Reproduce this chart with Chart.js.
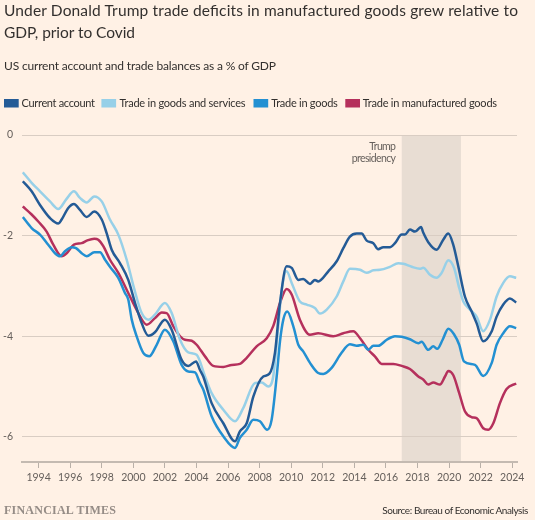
<!DOCTYPE html>
<html><head><meta charset="utf-8">
<script src="https://cdn.jsdelivr.net/npm/chart.js@4.4.1/dist/chart.umd.min.js"></script>
<style>
html,body{margin:0;padding:0;background:#FFF1E5;}
#wrap{position:relative;width:535px;height:520px;overflow:hidden;background:#FFF1E5;}
#c{position:absolute;left:0;top:0;}
#ov{position:absolute;left:0;top:0;pointer-events:none;}
</style></head><body>
<div id="wrap">
<canvas id="c" width="535" height="520"></canvas>
<svg id="ov" width="535" height="520" xmlns="http://www.w3.org/2000/svg" font-family="Lato, 'Open Sans', sans-serif">
<text x="4" y="15.7" font-size="15.5" fill="#33302e" textLength="514" lengthAdjust="spacing">Under Donald Trump trade deficits in manufactured goods grew relative to</text>
<text x="4" y="38.3" font-size="15.5" fill="#33302e" textLength="131" lengthAdjust="spacing">GDP, prior to Covid</text>
<text x="4" y="70" font-size="12" fill="#33302e" textLength="272" lengthAdjust="spacing">US current account and trade balances as a % of GDP</text>
<g id="legend"></g>
<text x="396" y="150" font-size="10.5" fill="#66605c" text-anchor="end" textLength="26.7" lengthAdjust="spacing">Trump</text>
<text x="396" y="161.5" font-size="10.5" fill="#66605c" text-anchor="end" textLength="44.3" lengthAdjust="spacing">presidency</text>
<text x="4" y="514" font-family="'Liberation Serif', 'DejaVu Serif', serif" font-weight="bold" font-size="12" fill="#958c86" textLength="112" lengthAdjust="spacing">FINANCIAL TIMES</text>
<text x="528.3" y="514.3" font-size="10" fill="#33302e" text-anchor="end" textLength="146" lengthAdjust="spacing">Source: Bureau of Economic Analysis</text>
</svg>
</div>
<script>
// ---- Data (year, % of GDP) ----
const currentAccount = [[1993.0,-0.92],[1993.56,-1.12],[1994.09,-1.39],[1994.72,-1.65],[1995.25,-1.76],[1995.46,-1.68],[1995.88,-1.45],[1996.24,-1.37],[1996.62,-1.49],[1997.05,-1.63],[1997.53,-1.52],[1998.0,-1.68],[1998.31,-1.95],[1998.63,-2.28],[1999.16,-2.55],[1999.68,-2.88],[2000.11,-3.34],[2000.53,-3.74],[2000.95,-3.99],[2001.37,-3.92],[2002.0,-3.67],[2002.43,-3.87],[2003.06,-4.47],[2003.48,-4.59],[2003.97,-4.50],[2004.22,-4.67],[2004.43,-4.80],[2004.96,-5.33],[2005.70,-5.73],[2006.44,-6.09],[2006.75,-5.89],[2007.18,-5.73],[2007.60,-5.20],[2008.23,-4.80],[2008.61,-4.75],[2008.97,-4.33],[2009.29,-3.34],[2009.71,-2.61],[2010.03,-2.64],[2010.45,-2.88],[2010.76,-2.86],[2011.19,-2.96],[2011.50,-2.88],[2011.71,-2.91],[2012.35,-2.71],[2012.88,-2.51],[2013.30,-2.25],[2013.72,-2.02],[2014.15,-1.96],[2014.46,-1.96],[2014.78,-2.10],[2015.20,-2.15],[2015.51,-2.27],[2015.83,-2.23],[2016.25,-2.23],[2016.57,-2.15],[2017.0,-1.98],[2017.20,-1.98],[2017.52,-1.88],[2017.84,-1.92],[2018.22,-1.83],[2018.36,-1.94],[2018.68,-2.13],[2019.21,-2.28],[2019.63,-2.08],[2019.95,-1.96],[2020.26,-2.18],[2020.58,-2.61],[2021.0,-3.21],[2021.43,-3.51],[2021.74,-3.74],[2022.16,-4.10],[2022.70,-3.90],[2023.01,-3.61],[2023.43,-3.37],[2023.85,-3.25],[2024.25,-3.33]];
const goodsAndServices = [[1993.0,-0.74],[1993.56,-0.95],[1994.09,-1.12],[1994.72,-1.32],[1995.25,-1.47],[1995.75,-1.28],[1996.24,-1.12],[1996.62,-1.25],[1997.05,-1.34],[1997.53,-1.22],[1998.0,-1.32],[1998.52,-1.68],[1999.05,-1.98],[1999.58,-2.48],[2000.05,-3.05],[2000.53,-3.54],[2000.95,-3.67],[2001.37,-3.57],[2002.0,-3.34],[2002.43,-3.54],[2002.96,-4.07],[2003.48,-4.32],[2004.01,-4.37],[2004.54,-4.80],[2004.96,-5.13],[2005.70,-5.46],[2006.44,-5.69],[2006.96,-5.43],[2007.71,-4.93],[2008.13,-4.92],[2008.55,-5.00],[2008.86,-4.80],[2009.18,-3.80],[2009.40,-3.08],[2009.71,-2.71],[2010.03,-2.94],[2010.55,-3.31],[2010.98,-3.37],[2011.50,-3.44],[2011.82,-3.55],[2012.25,-3.47],[2012.88,-3.21],[2013.30,-2.91],[2013.72,-2.66],[2014.36,-2.68],[2014.78,-2.74],[2015.20,-2.69],[2015.62,-2.68],[2016.25,-2.62],[2016.78,-2.55],[2017.10,-2.56],[2017.63,-2.62],[2018.15,-2.66],[2018.36,-2.64],[2018.79,-2.78],[2019.21,-2.84],[2019.53,-2.74],[2019.95,-2.49],[2020.31,-2.64],[2020.64,-3.04],[2020.90,-3.31],[2021.32,-3.47],[2021.74,-3.61],[2022.16,-3.90],[2022.59,-3.67],[2023.01,-3.21],[2023.43,-2.94],[2023.85,-2.81],[2024.25,-2.84]];
const goods = [[1993.0,-1.63],[1993.56,-1.85],[1994.09,-1.98],[1994.61,-2.18],[1995.04,-2.35],[1995.36,-2.41],[1995.67,-2.31],[1996.10,-2.23],[1996.37,-2.25],[1996.73,-2.35],[1997.05,-2.41],[1997.53,-2.33],[1997.89,-2.33],[1998.21,-2.48],[1998.52,-2.62],[1999.05,-2.84],[1999.47,-3.14],[1999.68,-3.27],[1999.90,-3.67],[2000.21,-4.00],[2000.63,-4.33],[2001.01,-4.40],[2001.48,-4.17],[2002.0,-3.87],[2002.53,-4.10],[2003.06,-4.57],[2003.48,-4.70],[2003.91,-4.72],[2004.22,-4.93],[2004.43,-5.06],[2004.96,-5.59],[2005.70,-5.99],[2006.44,-6.22],[2006.75,-6.02],[2007.18,-5.86],[2007.60,-5.66],[2008.02,-5.69],[2008.48,-5.86],[2008.76,-5.66],[2009.08,-4.80],[2009.29,-4.10],[2009.50,-3.67],[2009.75,-3.51],[2010.13,-3.80],[2010.45,-4.17],[2010.76,-4.30],[2011.19,-4.53],[2011.71,-4.73],[2012.03,-4.75],[2012.56,-4.63],[2013.19,-4.33],[2013.72,-4.16],[2014.15,-4.19],[2014.56,-4.17],[2014.88,-4.27],[2015.20,-4.19],[2015.51,-4.19],[2016.05,-4.07],[2016.57,-4.00],[2017.0,-4.01],[2017.52,-4.06],[2018.05,-4.14],[2018.26,-4.11],[2018.68,-4.27],[2019.0,-4.20],[2019.25,-4.25],[2019.59,-4.07],[2019.95,-3.85],[2020.31,-3.96],[2020.64,-4.17],[2020.94,-4.50],[2021.64,-4.57],[2022.16,-4.79],[2022.70,-4.53],[2023.01,-4.17],[2023.43,-3.94],[2023.85,-3.80],[2024.25,-3.84]];
const manufacturedGoods = [[1993.0,-1.42],[1993.56,-1.58],[1993.98,-1.72],[1994.51,-1.92],[1994.93,-2.18],[1995.46,-2.41],[1995.78,-2.35],[1996.24,-2.18],[1996.73,-2.15],[1997.05,-2.10],[1997.53,-2.06],[1997.78,-2.08],[1998.10,-2.21],[1998.52,-2.48],[1999.05,-2.74],[1999.68,-3.14],[2000.25,-3.50],[2000.85,-3.77],[2001.37,-3.64],[2001.80,-3.53],[2002.11,-3.54],[2002.53,-3.80],[2002.96,-4.00],[2003.27,-4.07],[2003.70,-4.09],[2004.01,-4.17],[2004.54,-4.40],[2005.06,-4.59],[2005.70,-4.61],[2006.23,-4.57],[2006.75,-4.55],[2007.18,-4.43],[2007.81,-4.20],[2008.45,-4.04],[2008.86,-3.80],[2009.29,-3.34],[2009.71,-3.06],[2010.03,-3.17],[2010.55,-3.67],[2011.19,-3.97],[2011.71,-3.94],[2012.66,-4.00],[2013.30,-3.94],[2013.93,-3.90],[2014.36,-4.04],[2014.88,-4.27],[2015.30,-4.40],[2015.73,-4.55],[2016.47,-4.55],[2017.0,-4.59],[2017.52,-4.65],[2018.05,-4.80],[2018.36,-4.86],[2018.68,-4.96],[2019.0,-4.92],[2019.42,-4.96],[2019.74,-4.80],[2019.95,-4.69],[2020.26,-4.77],[2020.64,-5.13],[2021.0,-5.49],[2021.43,-5.61],[2021.74,-5.63],[2022.16,-5.83],[2022.48,-5.86],[2022.80,-5.73],[2023.22,-5.33],[2023.64,-5.05],[2024.25,-4.94]];
const seriesNames = ['Current account','Trade in goods and services','Trade in goods','Trade in manufactured goods'];
const xTickYears = [1994,1996,1998,2000,2002,2004,2006,2008,2010,2012,2014,2016,2018,2020,2022,2024];
const yTickValues = [0,-2,-4,-6];
const trumpPresidency = [2017.0, 2020.75];

// ---- Styling ----
const colors = ['#245b96','#97d0e8','#2390d2','#b5305c'];
const legendPos = [[4,21.5,73.4],[101.4,119.4,126.2],[253.5,271.2,66.6],[345.3,362.7,134.4]];

const NS='http://www.w3.org/2000/svg';
const lg=document.getElementById('legend');
seriesNames.forEach((n,i)=>{
  const r=document.createElementNS(NS,'rect');
  r.setAttribute('x',legendPos[i][0]);r.setAttribute('y',99);r.setAttribute('width',14.7);r.setAttribute('height',8.5);r.setAttribute('fill',colors[i]);
  lg.appendChild(r);
  const t=document.createElementNS(NS,'text');
  t.setAttribute('x',legendPos[i][1]);t.setAttribute('y',107.3);t.setAttribute('font-size',11);t.setAttribute('fill','#33302e');
  t.setAttribute('textLength',legendPos[i][2]);t.setAttribute('lengthAdjust','spacing');
  t.textContent=n; lg.appendChild(t);
});

const shadePlugin={
  id:'shade',
  beforeDraw(chart){
    const {ctx,chartArea,scales:{x,y}}=chart;
    const x0=x.getPixelForValue(trumpPresidency[0]), x1=x.getPixelForValue(trumpPresidency[1]);
    const y0=y.getPixelForValue(0);
    ctx.save();ctx.fillStyle='#e8ddd3';ctx.fillRect(x0,y0,x1-x0,chartArea.bottom-y0);ctx.restore();
  }
};

Chart.defaults.font.family="Lato, 'Open Sans', sans-serif";
const toXY=a=>a.map(p=>({x:p[0],y:p[1]}));
const allSeries=[currentAccount,goodsAndServices,goods,manufacturedGoods];

new Chart(document.getElementById('c'),{
  type:'line',
  data:{datasets:allSeries.map((s,i)=>({
    label:seriesNames[i],data:toXY(s),borderColor:colors[i],backgroundColor:colors[i],
    borderWidth:2.5,pointRadius:0,cubicInterpolationMode:'monotone',fill:false
  }))},
  options:{
    responsive:false,animation:false,
    layout:{padding:{top:135,right:18,bottom:0,left:0}},
    plugins:{legend:{display:false},tooltip:{enabled:false}},
    scales:{
      x:{type:'linear',min:1992.95,max:2024.3,
        afterFit(s){s.height=58;},
        afterBuildTicks(s){s.ticks=xTickYears.map(v=>({value:v}));},
        grid:{display:true,drawOnChartArea:false,drawTicks:true,tickLength:6,tickColor:'#b9b0a8',tickWidth:1},
        border:{display:true,color:'#c4bab1',width:2},
        ticks:{autoSkip:false,maxRotation:0,minRotation:0,padding:3,color:'#66605c',font:{size:10.5},callback:v=>String(v)}
      },
      y:{min:-6.5,max:0,
        afterFit(s){s.width=22;},
        afterBuildTicks(s){s.ticks=yTickValues.map(v=>({value:v}));},
        grid:{color:'#d9cdc3',lineWidth:1,drawTicks:false},
        border:{display:false},
        ticks:{padding:9,color:'#66605c',font:{size:10.5},callback:v=>String(v)}
      }
    }
  },
  plugins:[shadePlugin]
});
</script>
</body></html>
